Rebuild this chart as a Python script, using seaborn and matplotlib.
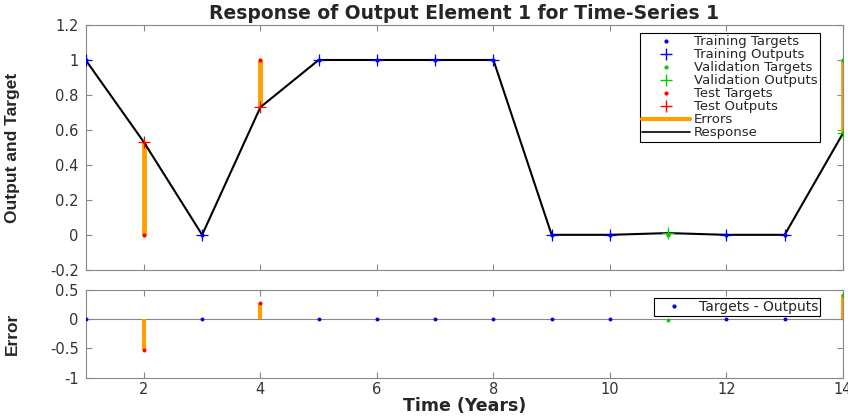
import numpy as np
import pandas as pd
import matplotlib
matplotlib.use("Agg")
import matplotlib.pyplot as plt
import seaborn as sns
from matplotlib.lines import Line2D

sns.set_style("white")
plt.rcParams['font.family'] = ['DejaVu Sans']

time = [1, 2, 3, 4, 5, 6, 7, 8, 9, 10, 11, 12, 13, 14]
targets = [1, 0, 0, 1, 1, 1, 1, 1, 0, 0, 0, 0, 0, 1]
outputs = [1.0, 0.53, 0.0, 0.73, 1.0, 1.0, 1.0, 1.0, 0.0, 0.0, 0.01, 0.0, 0.0, 0.58]
split = ["train", "test", "train", "test", "train", "train", "train", "train",
         "train", "train", "val", "train", "train", "val"]

df = pd.DataFrame({"time": time, "target": targets, "output": outputs, "split": split})
df["error"] = df["target"] - df["output"]

colors = {"train": "#0000ff", "val": "#00cc00", "test": "#ff0000"}
ORANGE = "#ffa000"
GRID = "#888888"
NARROW = ['Liberation Sans Narrow', 'Liberation Sans', 'DejaVu Sans']

fig = plt.figure(figsize=(8.48, 4.17), dpi=100)
ax1 = fig.add_axes([0.101, 0.353, 0.893, 0.587])
ax2 = fig.add_axes([0.101, 0.094, 0.893, 0.211])

# Errors (orange)
ax1.vlines(df["time"], df["output"], df["target"], color=ORANGE, lw=3.5, zorder=2)
sns.lineplot(data=df, x="time", y="output", color="black", lw=1.5, ax=ax1, zorder=3, legend=False)
for s in ["train", "val", "test"]:
    d = df[df["split"] == s]
    ax1.plot(d["time"], d["target"], ".", color=colors[s], ms=4, zorder=4)
    ax1.plot(d["time"], d["output"], "+", color=colors[s], ms=9, mew=0.9, zorder=4)

ax1.set_xlim(1, 14)
ax1.set_ylim(-0.2, 1.2)
ax1.set_yticks(np.arange(-0.2, 1.21, 0.2))
ax1.set_yticklabels(["-0.2", "0", "0.2", "0.4", "0.6", "0.8", "1", "1.2"])
ax1.set_xticks(range(2, 15, 2))
ax1.set_xticklabels([])
ax1.set_xlabel("")
ax1.set_ylabel("Output and Target", fontsize=12.5, fontweight="bold", family=NARROW)
ax1.yaxis.set_label_coords(-0.087, 0.5)
ax1.set_title("Response of Output Element 1 for Time-Series 1", fontsize=13.5, fontweight="bold", pad=4)

handles = [
    Line2D([], [], ls="", marker=".", color=colors["train"], ms=4),
    Line2D([], [], ls="", marker="+", color=colors["train"], ms=9),
    Line2D([], [], ls="", marker=".", color=colors["val"], ms=4),
    Line2D([], [], ls="", marker="+", color=colors["val"], ms=9),
    Line2D([], [], ls="", marker=".", color=colors["test"], ms=4),
    Line2D([], [], ls="", marker="+", color=colors["test"], ms=9),
    Line2D([], [], color=ORANGE, lw=3),
    Line2D([], [], color="black", lw=1.2),
]
labels = ["Training Targets", "Training Outputs", "Validation Targets", "Validation Outputs",
          "Test Targets", "Test Outputs", "Errors", "Response"]
leg = ax1.legend(handles, labels, loc="upper right", bbox_to_anchor=(0.970, 0.968), fontsize=9.5,
                 frameon=True, fancybox=False, edgecolor="black", framealpha=1,
                 handlelength=3.6, labelspacing=0.0, borderpad=0.2, handletextpad=0.3,
                 borderaxespad=0)
leg.get_frame().set_linewidth(0.8)

# Error subplot
ax2.axhline(0, color=GRID, lw=0.8, zorder=1)
ax2.vlines(df["time"], 0, df["error"], color=ORANGE, lw=3, zorder=2)
for s in ["train", "val", "test"]:
    d = df[df["split"] == s]
    sns.scatterplot(x=d["time"], y=d["error"], color=colors[s], s=8, linewidth=0, ax=ax2, zorder=4)
ax2.set_xlim(1, 14)
ax2.set_ylim(-1, 0.5)
ax2.set_yticks([-1, -0.5, 0, 0.5])
ax2.set_yticklabels(["-1", "-0.5", "0", "0.5"])
ax2.set_xticks(range(2, 15, 2))
ax2.set_xlabel("Time (Years)", fontsize=12.5, fontweight="bold", labelpad=0)
ax2.set_ylabel("Error", fontsize=12.5, fontweight="bold", family=NARROW)
ax2.yaxis.set_label_coords(-0.087, 0.5)
leg2 = ax2.legend([Line2D([], [], ls="", marker=".", color=colors["train"], ms=4)], ["Targets - Outputs"],
                  loc="upper right", bbox_to_anchor=(0.970, 0.91), fontsize=10, frameon=True,
                  fancybox=False, edgecolor="black", framealpha=1, handlelength=2.6,
                  borderpad=0.15, handletextpad=0.5, borderaxespad=0)
leg2.get_frame().set_linewidth(0.8)

for ax in (ax1, ax2):
    for sp in ax.spines.values():
        sp.set_color(GRID)
        sp.set_linewidth(0.8)
    ax.tick_params(direction="in", length=4, color=GRID, labelsize=10.5, labelcolor="#333333",
                   top=True, right=True, left=True, bottom=True, pad=5)
ax2.tick_params(axis="x", pad=3)

fig.savefig("out.png", dpi=100)
